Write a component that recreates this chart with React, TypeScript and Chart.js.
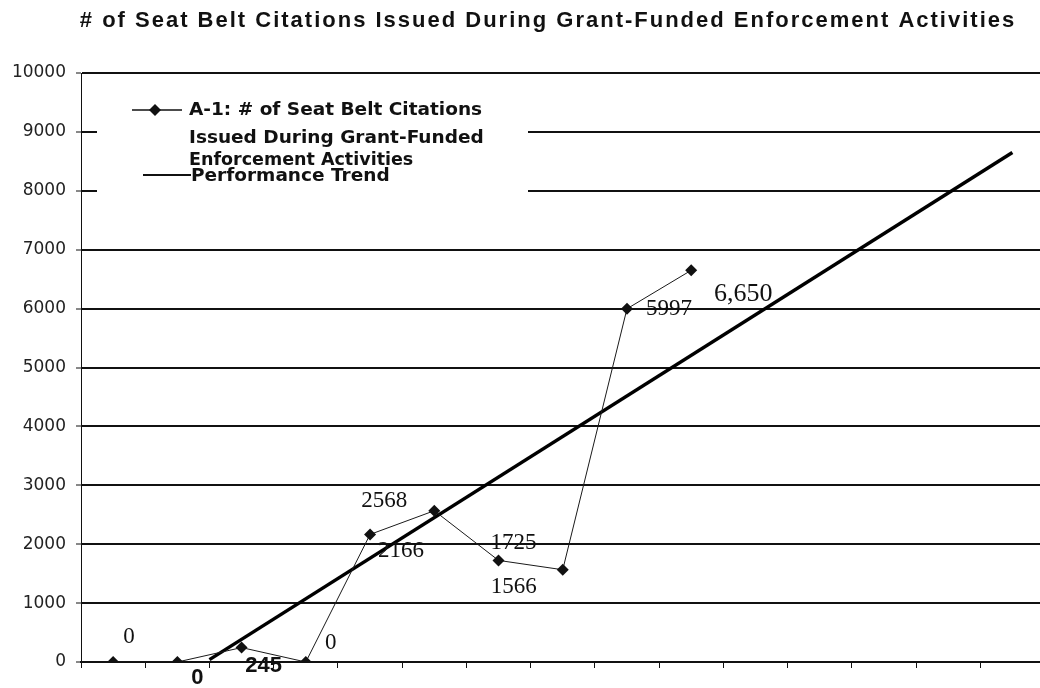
import React, { useEffect, useRef } from "react";
import { Chart, registerables } from "chart.js";

Chart.register(...registerables);

// ---- data ----
const chartTitle = "# of Seat Belt Citations Issued During Grant-Funded Enforcement Activities";
const seriesName = "A-1: # of Seat Belt Citations Issued During Grant-Funded Enforcement Activities";
const legendLines = ["A-1: # of Seat Belt Citations", "Issued During Grant-Funded", "Enforcement Activities"];
const trendName = "Performance Trend";
const periodSlots = [0.5, 1.5, 2.5, 3.5, 4.5, 5.5, 6.5, 7.5, 8.5, 9.5];
const citations = [0, 0, 245, 0, 2166, 2568, 1725, 1566, 5997, 6650];
const pointLabels = ["0", "0", "245", "0", "2166", "2568", "1725", "1566", "5997", "6,650"];
const trendX = [2.0, 14.5];
const trendY = [40, 8650];
const yMin = 0;
const yMax = 10000;
const yStep = 1000;
const xSlotsVisible = 14.93;

// ---- label styling (offsets in px from the point) ----
const SERIF = "23px 'Liberation Serif', 'Times New Roman', serif";
const SERIF_BIG = "26px 'Liberation Serif', 'Times New Roman', serif";
const BOLDSANS = "bold 22px 'Liberation Sans', Arial, sans-serif";
const labelStyle = [
  { dx: 16, dy: -25, font: SERIF },
  { dx: 20, dy: 16, font: BOLDSANS },
  { dx: 22, dy: 18, font: BOLDSANS },
  { dx: 25, dy: -19, font: SERIF },
  { dx: 31, dy: 17, font: SERIF },
  { dx: -50, dy: -10, font: SERIF },
  { dx: 15, dy: -17, font: SERIF },
  { dx: -49, dy: 17, font: SERIF },
  { dx: 42, dy: 0, font: SERIF },
  { dx: 52, dy: 24, font: SERIF_BIG },
];

const CANVAS_W = 1046;

const decorPlugin = {
  id: "decor",
  afterDraw(chart: any) {
    const ctx = chart.ctx;
    const xs = chart.scales.x;
    const ys = chart.scales.y;
    ctx.save();
    // title
    ctx.fillStyle = "#111";
    ctx.font = "bold 22px 'Liberation Sans', Arial, sans-serif";
    try {
      (ctx as any).letterSpacing = "2px";
    } catch (e) {}
    ctx.textAlign = "center";
    ctx.textBaseline = "middle";
    ctx.fillText(chartTitle, 548, 21);
    try {
      (ctx as any).letterSpacing = "0px";
    } catch (e) {}

    // point labels
    ctx.fillStyle = "#111";
    for (let i = 0; i < citations.length; i++) {
      const px = xs.getPixelForValue(periodSlots[i]);
      const py = ys.getPixelForValue(citations[i]);
      const st = labelStyle[i];
      ctx.font = st.font;
      ctx.textAlign = "center";
      ctx.textBaseline = "middle";
      ctx.fillText(pointLabels[i], px + st.dx, py + st.dy);
    }

    // legend box
    ctx.fillStyle = "#fff";
    ctx.fillRect(97, 84, 431, 108);
    ctx.strokeStyle = "#111";
    ctx.fillStyle = "#111";
    // series entry
    ctx.lineWidth = 1.5;
    ctx.beginPath();
    ctx.moveTo(132, 110);
    ctx.lineTo(182, 110);
    ctx.stroke();
    ctx.beginPath();
    ctx.moveTo(155, 104);
    ctx.lineTo(161, 110);
    ctx.lineTo(155, 116);
    ctx.lineTo(149, 110);
    ctx.closePath();
    ctx.fill();
    ctx.font = "bold 18.5px 'DejaVu Sans', Verdana, sans-serif";
    ctx.textAlign = "left";
    ctx.textBaseline = "middle";
    ctx.fillText(legendLines[0], 189, 110);
    ctx.fillText(legendLines[1], 189, 138);
    ctx.font = "bold 17.5px 'DejaVu Sans', Verdana, sans-serif";
    ctx.fillText(legendLines[2], 189, 160);
    ctx.font = "bold 18.5px 'DejaVu Sans', Verdana, sans-serif";
    // trend entry
    ctx.lineWidth = 2;
    ctx.beginPath();
    ctx.moveTo(143, 175);
    ctx.lineTo(191, 175);
    ctx.stroke();
    ctx.fillText(trendName, 191, 176);
    ctx.restore();
  },
};

export default function App() {
  const ref = useRef<HTMLCanvasElement | null>(null);
  useEffect(() => {
    if (!ref.current) return;
    const chart = new Chart(ref.current, {
      type: "line",
      data: {
        datasets: [
          {
            label: seriesName,
            data: periodSlots.map((x, i) => ({ x, y: citations[i] })),
            borderColor: "#1a1a1a",
            borderWidth: 1,
            backgroundColor: "#111",
            pointStyle: "rectRot",
            pointRadius: 6,
            pointBorderWidth: 0,
            pointBackgroundColor: "#111",
            tension: 0,
            order: 1,
          },
          {
            label: trendName,
            data: trendX.map((x, i) => ({ x, y: trendY[i] })),
            borderColor: "#000",
            borderWidth: 3.5,
            pointRadius: 0,
            tension: 0,
            order: 2,
          },
        ],
      },
      options: {
        animation: false,
        responsive: false,
        maintainAspectRatio: false,
        layout: { padding: { top: 73, right: 0, bottom: 0, left: 0 } },
        plugins: {
          legend: { display: false },
          title: { display: false },
          tooltip: { enabled: false },
        },
        scales: {
          x: {
            type: "linear",
            min: 0,
            max: xSlotsVisible,
            afterBuildTicks: (s: any) => {
              s.ticks = s.ticks.filter((t: any) => Number.isInteger(t.value));
            },
            afterFit: (s: any) => {
              s.height = 26;
              s.paddingLeft = 0;
              s.paddingRight = 0;
            },
            ticks: { display: false, stepSize: 1 },
            grid: {
              drawOnChartArea: false,
              drawTicks: true,
              tickLength: 6,
              color: "#111",
              lineWidth: 1,
            },
            border: { display: true, color: "#111", width: 2 },
          },
          y: {
            type: "linear",
            min: yMin,
            max: yMax,
            afterFit: (s: any) => {
              s.width = 81;
              s.paddingTop = 0;
              s.paddingBottom = 0;
            },
            ticks: {
              stepSize: yStep,
              padding: 10,
              color: "#222",
              font: { family: "'DejaVu Sans', Verdana, sans-serif", size: 17 },
              callback: (v: any) => String(v),
            },
            grid: {
              color: "#111",
              lineWidth: 2,
              drawTicks: true,
              tickLength: 5,
              tickColor: "#111",
              tickWidth: 1,
            },
            border: { display: true, color: "#111", width: 1 },
          },
        },
      },
      plugins: [decorPlugin],
    } as any);
    return () => chart.destroy();
  }, []);
  return (
    <div style={{ position: "fixed", left: 0, top: 0, width: 1040, height: 688, overflow: "hidden", background: "#fff" }}>
      <canvas ref={ref} width={CANVAS_W} height={688} style={{ display: "block", width: CANVAS_W, height: 688 }} />
    </div>
  );
}
